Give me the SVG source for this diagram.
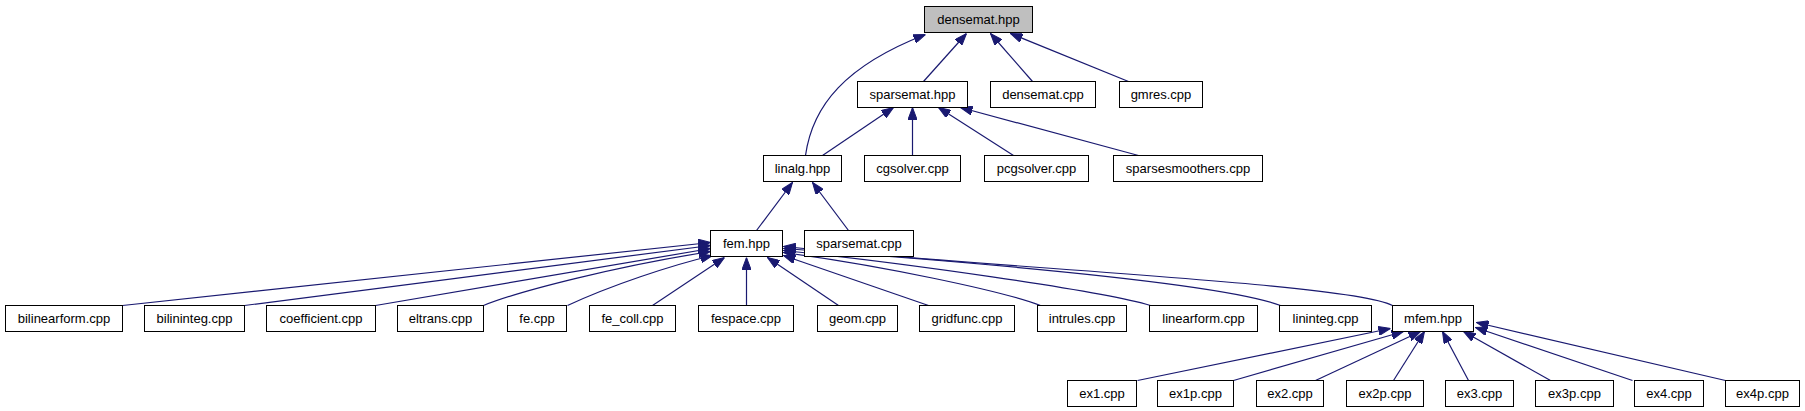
<svg xmlns="http://www.w3.org/2000/svg" width="1805" height="411" viewBox="0 0 1805 411">
<style>
.n rect{fill:#ffffff;stroke:#000000;stroke-width:1}
.n text{font-family:"Liberation Sans",Arial,sans-serif;font-size:13px;fill:#000000;text-anchor:middle}
#n_densemat_hpp rect{fill:#bfbfbf}
#edges path{fill:none;stroke:#191970;stroke-width:1.2;marker-end:url(#arr)}
</style>
<defs>
<marker id="arr" viewBox="0 0 12 9" refX="12" refY="4.5" markerWidth="12" markerHeight="9" markerUnits="userSpaceOnUse" orient="auto">
<path d="M0,0 L12,4.5 L0,9 z" fill="#191970" stroke="#191970" stroke-width="1"/>
</marker>
</defs>
<rect x="0" y="0" width="1805" height="411" fill="#ffffff"/>
<g transform="translate(0.5,0.5)">
<g id="edges">
<path d="M923,81 L966,33"/>
<path d="M1032,81 L990,33"/>
<path d="M1128,81 L1010,33"/>
<path d="M805,155 C812,105 845,65 925,34"/>
<path d="M822,155 L893,107"/>
<path d="M912,155 L912,107"/>
<path d="M1013,155 L938,107"/>
<path d="M1138,155 L960,107"/>
<path d="M756,230 L792,182"/>
<path d="M848,230 L812,182"/>
<path d="M122,305 L710,242"/>
<path d="M244,305 L710,245"/>
<path d="M375,305 L710,248"/>
<path d="M483,305 C520,290 620,265 710,251"/>
<path d="M567,305 C610,285 670,265 712,255"/>
<path d="M652,305 L724,257"/>
<path d="M746,305 L746,257"/>
<path d="M838,305 L767,257"/>
<path d="M928,305 L783,255"/>
<path d="M1040,305 C1000,290 880,265 783,252"/>
<path d="M1150,305 C1100,290 900,262 783,250"/>
<path d="M1280,305 C1220,282 950,260 783,248"/>
<path d="M1392,305 C1350,283 1000,268 783,246"/>
<path d="M1137,380 L1390,328"/>
<path d="M1233,380 L1403,331"/>
<path d="M1315,380 L1420,331"/>
<path d="M1393,380 L1424,331"/>
<path d="M1468,380 L1442,331"/>
<path d="M1550,380 L1463,331"/>
<path d="M1632,380 L1475,327"/>
<path d="M1725,380 L1476,322"/>
</g>
<g id="n_densemat_hpp" class="n"><rect x="924" y="6" width="108" height="26"/><text x="978" y="23.5">densemat.hpp</text></g>
<g id="n_sparsemat_hpp" class="n"><rect x="857" y="81" width="110" height="26"/><text x="912" y="98.5">sparsemat.hpp</text></g>
<g id="n_densemat_cpp" class="n"><rect x="990" y="81" width="105" height="26"/><text x="1042.5" y="98.5">densemat.cpp</text></g>
<g id="n_gmres_cpp" class="n"><rect x="1119" y="81" width="83" height="26"/><text x="1160.5" y="98.5">gmres.cpp</text></g>
<g id="n_linalg_hpp" class="n"><rect x="763" y="155" width="78" height="26"/><text x="802" y="172.5">linalg.hpp</text></g>
<g id="n_cgsolver_cpp" class="n"><rect x="864" y="155" width="96" height="26"/><text x="912" y="172.5">cgsolver.cpp</text></g>
<g id="n_pcgsolver_cpp" class="n"><rect x="984" y="155" width="104" height="26"/><text x="1036" y="172.5">pcgsolver.cpp</text></g>
<g id="n_sparsesmoothers_cpp" class="n"><rect x="1113" y="155" width="149" height="26"/><text x="1187.5" y="172.5">sparsesmoothers.cpp</text></g>
<g id="n_fem_hpp" class="n"><rect x="710" y="230" width="72" height="26"/><text x="746" y="247.5">fem.hpp</text></g>
<g id="n_sparsemat_cpp" class="n"><rect x="804" y="230" width="109" height="26"/><text x="858.5" y="247.5">sparsemat.cpp</text></g>
<g id="n_bilinearform_cpp" class="n"><rect x="5" y="305" width="117" height="26"/><text x="63.5" y="322.5">bilinearform.cpp</text></g>
<g id="n_bilininteg_cpp" class="n"><rect x="144" y="305" width="100" height="26"/><text x="194" y="322.5">bilininteg.cpp</text></g>
<g id="n_coefficient_cpp" class="n"><rect x="266" y="305" width="109" height="26"/><text x="320.5" y="322.5">coefficient.cpp</text></g>
<g id="n_eltrans_cpp" class="n"><rect x="397" y="305" width="86" height="26"/><text x="440" y="322.5">eltrans.cpp</text></g>
<g id="n_fe_cpp" class="n"><rect x="507" y="305" width="59" height="26"/><text x="536.5" y="322.5">fe.cpp</text></g>
<g id="n_fe_coll_cpp" class="n"><rect x="589" y="305" width="86" height="26"/><text x="632" y="322.5">fe_coll.cpp</text></g>
<g id="n_fespace_cpp" class="n"><rect x="698" y="305" width="95" height="26"/><text x="745.5" y="322.5">fespace.cpp</text></g>
<g id="n_geom_cpp" class="n"><rect x="817" y="305" width="80" height="26"/><text x="857" y="322.5">geom.cpp</text></g>
<g id="n_gridfunc_cpp" class="n"><rect x="919" y="305" width="95" height="26"/><text x="966.5" y="322.5">gridfunc.cpp</text></g>
<g id="n_intrules_cpp" class="n"><rect x="1037" y="305" width="89" height="26"/><text x="1081.5" y="322.5">intrules.cpp</text></g>
<g id="n_linearform_cpp" class="n"><rect x="1149" y="305" width="108" height="26"/><text x="1203" y="322.5">linearform.cpp</text></g>
<g id="n_lininteg_cpp" class="n"><rect x="1279" y="305" width="92" height="26"/><text x="1325" y="322.5">lininteg.cpp</text></g>
<g id="n_mfem_hpp" class="n"><rect x="1392" y="305" width="81" height="26"/><text x="1432.5" y="322.5">mfem.hpp</text></g>
<g id="n_ex1_cpp" class="n"><rect x="1067" y="380" width="69" height="26"/><text x="1101.5" y="397.5">ex1.cpp</text></g>
<g id="n_ex1p_cpp" class="n"><rect x="1157" y="380" width="76" height="26"/><text x="1195" y="397.5">ex1p.cpp</text></g>
<g id="n_ex2_cpp" class="n"><rect x="1256" y="380" width="67" height="26"/><text x="1289.5" y="397.5">ex2.cpp</text></g>
<g id="n_ex2p_cpp" class="n"><rect x="1346" y="380" width="77" height="26"/><text x="1384.5" y="397.5">ex2p.cpp</text></g>
<g id="n_ex3_cpp" class="n"><rect x="1445" y="380" width="68" height="26"/><text x="1479" y="397.5">ex3.cpp</text></g>
<g id="n_ex3p_cpp" class="n"><rect x="1535" y="380" width="78" height="26"/><text x="1574" y="397.5">ex3p.cpp</text></g>
<g id="n_ex4_cpp" class="n"><rect x="1634" y="380" width="69" height="26"/><text x="1668.5" y="397.5">ex4.cpp</text></g>
<g id="n_ex4p_cpp" class="n"><rect x="1725" y="380" width="74" height="26"/><text x="1762" y="397.5">ex4p.cpp</text></g>
</g>
</svg>
